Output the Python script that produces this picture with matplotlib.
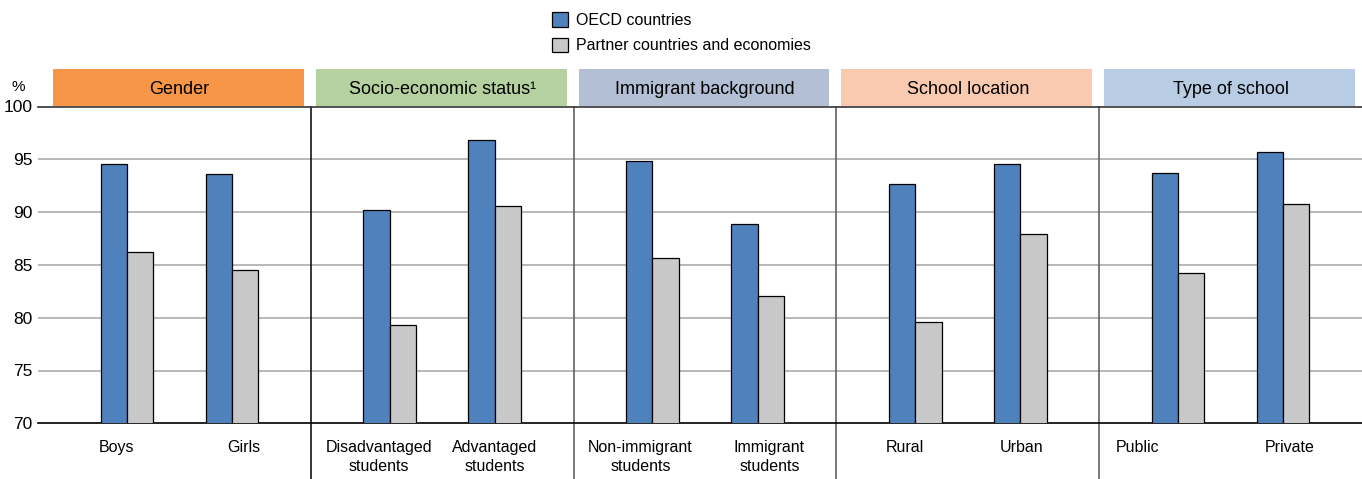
import numpy as np
import matplotlib
matplotlib.use("Agg")
from matplotlib import pyplot as plt
from matplotlib.patches import Rectangle

plt.rcParams['font.family'] = ['Liberation Sans', 'DejaVu Sans']

# ----------------------- Data -----------------------
groups = ["Gender", "Socio-economic status\u00b9", "Immigrant background",
          "School location", "Type of school"]
group_colors = ["#F79646", "#B5D1A0", "#B2BFD5", "#FACAB0", "#B8CCE4"]

categories = ["Boys", "Girls",
              "Disadvantaged\nstudents", "Advantaged\nstudents",
              "Non-immigrant\nstudents", "Immigrant\nstudents",
              "Rural", "Urban",
              "Public", "Private"]

oecd = [94.6, 93.6, 90.2, 96.8, 94.8, 88.9, 92.7, 94.6, 93.7, 95.7]
partner = [86.2, 84.5, 79.3, 90.6, 85.7, 82.1, 79.6, 87.9, 84.2, 90.8]

series_names = ["OECD countries", "Partner countries and economies"]
series_colors = ["#4F81BD", "#C8C8C8"]

# label x offsets inside each panel (panel = 2 units wide)
label_pos = [0.52, 1.49, 0.52, 1.40, 0.51, 1.49, 0.52, 1.41, 0.29, 1.45]

# ----------------------- Figure -----------------------
fig = plt.figure(figsize=(13.62, 4.79), dpi=100)
ax = fig.add_axes([38 / 1362, 55.7 / 479, (1362 - 38) / 1362, (423.3 - 106.5) / 479])

bw = 0.2
x_center = np.array([2 * (i // 2) + (0.6 if i % 2 == 0 else 1.4) for i in range(len(categories))])
ax.bar(x_center - bw / 2, oecd, width=bw, color=series_colors[0], edgecolor="black",
       linewidth=0.9, label=series_names[0], zorder=3)
ax.bar(x_center + bw / 2, partner, width=bw, color=series_colors[1], edgecolor="black",
       linewidth=0.9, label=series_names[1], zorder=3)

ax.set_xlim(-10 / 131.5, 10.0)
ax.set_ylim(70, 100)
ax.set_yticks([70, 75, 80, 85, 90, 95, 100])
ax.tick_params(axis='y', length=0, labelsize=12.5, pad=4)
ax.set_xticks([])

for s in ["left", "right"]:
    ax.spines[s].set_visible(False)
ax.spines["top"].set_color("#333333")
ax.spines["bottom"].set_color("black")
ax.spines["top"].set_linewidth(1.2)
ax.spines["bottom"].set_linewidth(1.2)

for y in [75, 80, 85, 90, 95]:
    ax.axhline(y, color="#ABABAB", linewidth=1.2, zorder=1)

# panel separators, running below the axis
for k in range(1, 5):
    ax.plot([2 * k, 2 * k], [64.6, 100], color="black" if k == 1 else "#555555",
            linewidth=1.1, clip_on=False, zorder=2)

# panel headers
inset = 5 / 131.5
for k, (g, c) in enumerate(zip(groups, group_colors)):
    ax.add_patch(Rectangle((2 * k + inset, 100.05), 2 - 2 * inset - 2 / 131.5, 3.5,
                           facecolor=c, edgecolor="none", clip_on=False))
    ax.text(2 * k + 1, 101.65, g, ha="center", va="center", fontsize=13)

# category labels
for i, lab in enumerate(categories):
    ax.text(2 * (i // 2) + label_pos[i], 68.45, lab, ha="center", va="top",
            fontsize=11.5, linespacing=1.35)

fig.text(18 / 1362, 1 - 87 / 479, "%", ha="center", va="center", fontsize=11)

fig.legend(loc="upper left", bbox_to_anchor=(538 / 1362, 1 + 2 / 479), frameon=False,
           fontsize=11.5, handlelength=1.0, handleheight=1.0, handletextpad=0.5,
           labelspacing=0.6)

fig.savefig("out.png", dpi=100)
